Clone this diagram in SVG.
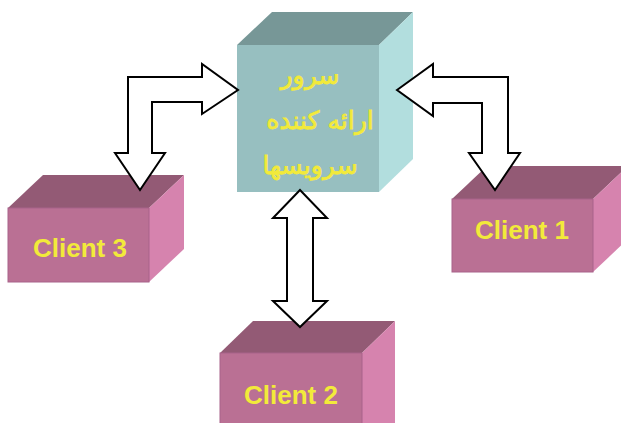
<svg xmlns="http://www.w3.org/2000/svg" width="621" height="423" viewBox="0 0 621 423">
  <style>
    .srv-front { fill: #97bfc0; }
    .srv-top { fill: #779797; }
    .srv-side { fill: #b2dede; }
    .cl-front { fill: #ba7094; stroke: #a8638a; stroke-width: 1; }
    .cl-top { fill: #935a75; }
    .cl-side { fill: #d683ae; }
    .label { font-family: "Liberation Sans", Arial, sans-serif; font-weight: bold; font-size: 26px; fill: #f2ea3a; text-anchor: middle; }
    .fa { font-family: "DejaVu Sans", sans-serif; font-size: 25px; fill: #f2ea3a; stroke: #f2ea3a; stroke-width: 0.8; text-anchor: middle; }
    .arrow { fill: #ffffff; stroke: #000000; stroke-width: 2; stroke-linejoin: miter; }
  </style>

  <!-- server cube -->
  <g id="server">
    <polygon class="srv-top" points="237,45 272,12 413,12 379,45"/>
    <polygon class="srv-side" points="379,45 413,12 413,159 379,192"/>
    <rect class="srv-front" x="237" y="45" width="142" height="147"/>
    <text class="fa" x="310" y="84">سرور</text>
    <text class="fa" x="320" y="129">ارائه کننده</text>
    <text class="fa" x="310" y="174">سرویسها</text>
  </g>

  <!-- client boxes -->
  <g id="client3">
    <polygon class="cl-top" points="8,208 43,175 184,175 149,208"/>
    <polygon class="cl-side" points="149,208 184,175 184,249 149,282"/>
    <rect class="cl-front" x="8" y="208" width="141" height="74"/>
    <text class="label" x="80" y="257">Client 3</text>
  </g>

  <g id="client1">
    <polygon class="cl-top" points="452,199 487,166 628,166 593,199"/>
    <polygon class="cl-side" points="593,199 628,166 628,239 593,272"/>
    <rect class="cl-front" x="452" y="199" width="141" height="73"/>
    <text class="label" x="522" y="239">Client 1</text>
  </g>

  <g id="client2">
    <polygon class="cl-top" points="220,353 253,321 395,321 362,353"/>
    <polygon class="cl-side" points="362,353 395,321 395,423 362,430"/>
    <rect class="cl-front" x="220" y="353" width="142" height="80"/>
    <text class="label" x="291" y="404">Client 2</text>
  </g>

  <!-- two-way connectors -->
  <g id="connectors">
    <polygon class="arrow" points="128,77 202,77 202,64 238,90 202,114 202,102 152,102 152,153 165,153 140,190 115,153 128,153"/>
    <polygon class="arrow" points="397,90 433,64 433,77 508,77 508,153 520,153 495,190 469,153 482,153 482,103 433,103 433,116"/>
    <polygon class="arrow" points="300,190 327,218 313,218 313,301 327,301 300,327 273,301 287,301 287,218 273,218"/>
  </g>
</svg>
